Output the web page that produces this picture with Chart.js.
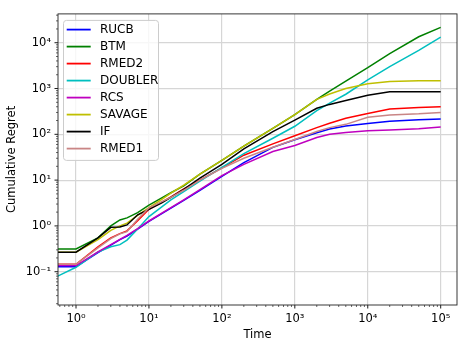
<!DOCTYPE html>
<html>
<head>
<meta charset="utf-8">
<script src="https://cdn.jsdelivr.net/npm/chart.js@4"></script>
<style>
html,body{margin:0;padding:0;background:#fff}
#wrap{width:458px;height:345px;position:relative}
</style>
</head>
<body>
<div id="wrap"><canvas id="c"></canvas></div>
<script>
// ===== data (time vs cumulative regret, log-log) =====
const T       = [0.5,1,2,3,4,5,7,10,15,20,30,50,100,200,500,1000,2000,3000,5000,10000,20000,50000,100000];
const RUCB    = [0.128,0.128,0.26,0.38,0.5,0.6,0.85,1.25,1.85,2.45,3.6,6.0,12,24,52,76,108,130,152,172,192,208,216];
const BTM     = [0.313,0.313,0.55,1.0,1.35,1.5,1.95,2.85,4.1,5.3,7.5,13.5,27,55,135,270,580,880,1450,2850,5800,13500,21600];
const RMED2   = [0.145,0.145,0.35,0.55,0.68,0.78,1.3,2.3,3.3,4.3,6.4,10,18.5,35,62,93,140,175,225,285,355,385,398];
const DOUBLER = [0.073,0.125,0.27,0.35,0.39,0.49,0.86,1.6,2.6,3.7,5.6,9.5,19,38,82,150,330,480,750,1550,3000,6800,13200];
const RCS     = [0.136,0.136,0.27,0.39,0.51,0.62,0.87,1.28,1.9,2.5,3.7,6.2,12.5,22,42,57,85,100,110,119,124,132,144];
const SAVAGE  = [0.266,0.266,0.5,0.8,1.0,1.15,1.7,2.5,3.8,5.2,7.8,13.5,27,55,135,270,580,760,1000,1270,1430,1470,1470];
const IF      = [0.266,0.266,0.55,0.93,0.95,1.05,1.75,2.3,3.2,4.2,6.3,11,22,48,115,205,370,450,545,710,850,850,850];
const RMED1   = [0.145,0.145,0.33,0.53,0.67,0.75,1.4,2.47,3.4,4.2,6.0,10,18,30,52,77,115,140,165,235,265,280,300];

const NAMES  = ['RUCB','BTM','RMED2','DOUBLER','RCS','SAVAGE','IF','RMED1'];
const SERIES = [RUCB,BTM,RMED2,DOUBLER,RCS,SAVAGE,IF,RMED1];
const COLORS = ['#0000ff','#008000','#ff0000','#00bfbf','#bf00bf','#bfbf00','#000000','#c98585'];

const X_MAJOR = [1,10,100,1000,10000,100000];
const Y_MAJOR = [0.1,1,10,100,1000,10000];
const X_MIN = 0.5665, X_MAX = 167300;
const Y_MIN = 0.01875, Y_MAX = 42600;

const FONT = "'DejaVu Sans', sans-serif";
const SUP = {'-':'\u207B','0':'\u2070','1':'\u00B9','2':'\u00B2','3':'\u00B3','4':'\u2074','5':'\u2075','6':'\u2076','7':'\u2077','8':'\u2078','9':'\u2079'};

function isMajor(v){ const l=Math.log10(v); return Math.abs(l-Math.round(l))<1e-9; }
function pow10Label(v){
  if(!isMajor(v)) return '';
  const e=String(Math.round(Math.log10(v)));
  return '10'+e.split('').map(ch=>SUP[ch]).join('');
}
// majors from the lists above, plus the 2..9 minors inside the axis range
function logTicks(majors,min,max){
  const out=[];
  const lo=Math.floor(Math.log10(min)), hi=Math.ceil(Math.log10(max));
  for(let e=lo;e<=hi;e++){
    for(let s=1;s<10;s++){
      const v=s*Math.pow(10,e);
      if(v<min||v>max) continue;
      if(s===1 && !majors.some(m=>Math.abs(m-v)/v<1e-9)) continue;
      out.push({value:v});
    }
  }
  return out;
}

// ===== spines, tick marks, legend box (drawn on top, like matplotlib) =====
const frame={
  id:'frame',
  afterDraw(chart){
    const ctx=chart.ctx, a=chart.chartArea;
    const sx=chart.scales.x, sy=chart.scales.y;
    ctx.save();
    ctx.strokeStyle='#000';
    sx.ticks.forEach(t=>{
      const p=sx.getPixelForValue(t.value), len=isMajor(t.value)?3.5:2;
      ctx.lineWidth=isMajor(t.value)?0.9:0.6;
      ctx.beginPath(); ctx.moveTo(p,a.bottom); ctx.lineTo(p,a.bottom+len); ctx.stroke();
    });
    sy.ticks.forEach(t=>{
      const p=sy.getPixelForValue(t.value), len=isMajor(t.value)?3.5:2;
      ctx.lineWidth=isMajor(t.value)?0.9:0.6;
      ctx.beginPath(); ctx.moveTo(a.left-len,p); ctx.lineTo(a.left,p); ctx.stroke();
    });
    ctx.lineWidth=0.9; ctx.strokeStyle='#222';
    ctx.strokeRect(a.left,a.top,a.right-a.left,a.bottom-a.top);

    // legend
    const bx=a.left+5.5, by=a.top+6.5, bw=95, bh=140, r=3;
    ctx.beginPath();
    ctx.moveTo(bx+r,by); ctx.lineTo(bx+bw-r,by); ctx.arcTo(bx+bw,by,bx+bw,by+r,r);
    ctx.lineTo(bx+bw,by+bh-r); ctx.arcTo(bx+bw,by+bh,bx+bw-r,by+bh,r);
    ctx.lineTo(bx+r,by+bh); ctx.arcTo(bx,by+bh,bx,by+bh-r,r);
    ctx.lineTo(bx,by+r); ctx.arcTo(bx,by,bx+r,by,r); ctx.closePath();
    ctx.fillStyle='rgba(255,255,255,0.8)'; ctx.fill();
    ctx.strokeStyle='#cccccc'; ctx.lineWidth=1; ctx.stroke();
    ctx.font='12px '+FONT; ctx.textBaseline='middle'; ctx.textAlign='left';
    chart.data.datasets.forEach((d,i)=>{
      const cy=a.top+15.7+17*i;
      ctx.strokeStyle=d.borderColor; ctx.lineWidth=1.8;
      ctx.beginPath(); ctx.moveTo(a.left+8.7,cy); ctx.lineTo(a.left+32.7,cy); ctx.stroke();
      ctx.fillStyle='#000'; ctx.fillText(d.label,a.left+42,cy+0.5);
    });
    ctx.restore();
  }
};

const gridColor=c=>(c.tick&&isMajor(c.tick.value))?'#d6d6d6':'rgba(0,0,0,0)';

new Chart(document.getElementById('c'),{
  type:'line',
  data:{datasets:NAMES.map((n,i)=>({
    label:n,
    data:T.map((t,j)=>({x:t,y:SERIES[i][j]})),
    borderColor:COLORS[i],backgroundColor:COLORS[i],
    borderWidth:1.5,pointRadius:0,tension:0,fill:false,clip:0,
    order:NAMES.length-1-i
  }))},
  options:{
    responsive:true,maintainAspectRatio:false,animation:false,
    layout:{padding:{top:5,right:1,left:0,bottom:0}},
    plugins:{legend:{display:false},tooltip:{enabled:false}},
    scales:{
      x:{type:'logarithmic',min:X_MIN,max:X_MAX,
        afterBuildTicks:s=>{s.ticks=logTicks(X_MAJOR,X_MIN,X_MAX);},
        afterFit:s=>{s.height=40;},
        grid:{color:gridColor,lineWidth:1.2,drawTicks:false},
        border:{display:false},
        ticks:{autoSkip:false,maxRotation:0,padding:7,color:'#000',font:{family:FONT,size:11.5},callback:v=>pow10Label(v)},
        title:{display:true,text:'Time',color:'#000',font:{family:FONT,size:11.5},padding:{top:0,bottom:3.4}}
      },
      y:{type:'logarithmic',min:Y_MIN,max:Y_MAX,
        afterBuildTicks:s=>{s.ticks=logTicks(Y_MAJOR,Y_MIN,Y_MAX);},
        afterFit:s=>{s.width=58;},
        grid:{color:gridColor,lineWidth:1.2,drawTicks:false},
        border:{display:false},
        ticks:{autoSkip:false,padding:7,color:'#000',font:{family:FONT,size:11.5},callback:v=>pow10Label(v)},
        title:{display:true,text:'Cumulative Regret',color:'#000',font:{family:FONT,size:11.5},padding:{top:5,bottom:0}}
      }
    }
  },
  plugins:[frame]
});
</script>
</body>
</html>
